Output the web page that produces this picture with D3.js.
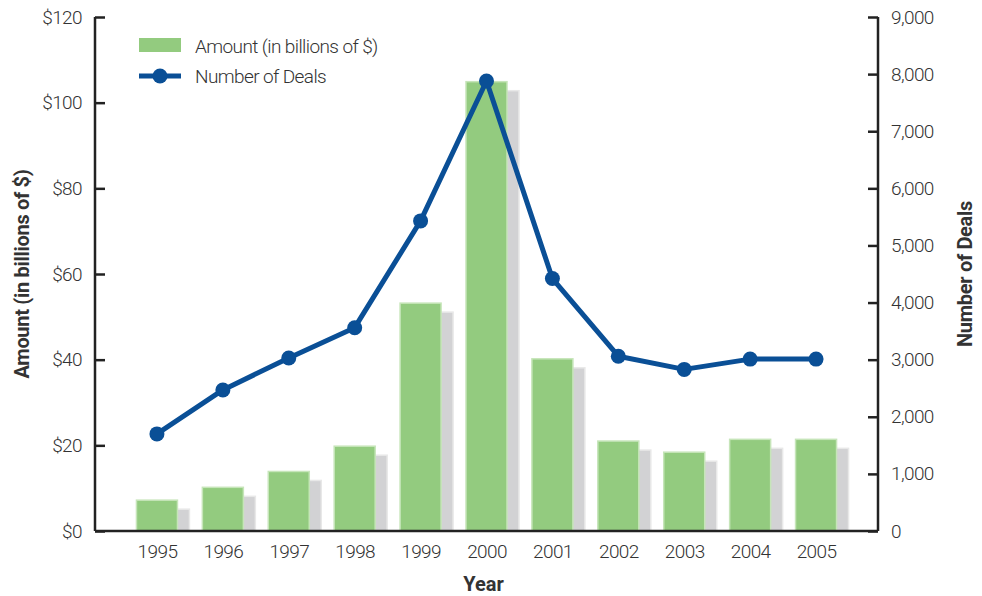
<!DOCTYPE html>
<html>
<head>
<meta charset="utf-8">
<script src="https://cdn.jsdelivr.net/npm/d3@7"></script>
<style>
  body { margin: 0; background: #fff; }
  text { font-family: "Roboto", "Liberation Sans", sans-serif; fill: #333; }
</style>
</head>
<body>
<svg id="chart" width="982" height="596"></svg>
<script>
// ---- data ----
var years   = ["1995","1996","1997","1998","1999","2000","2001","2002","2003","2004","2005"];
var amounts = [7.2, 10.2, 13.9, 19.8, 53.2, 104.9, 40.2, 21.0, 18.4, 21.4, 21.4];
var deals   = [1700, 2470, 3030, 3560, 5430, 7880, 4420, 3060, 2830, 3010, 3010];
var amountTicks = [0, 20, 40, 60, 80, 100, 120];
var dealTicks   = [0, 1000, 2000, 3000, 4000, 5000, 6000, 7000, 8000, 9000];

var svg = d3.select("#chart");
var mLeft = 95, mRight = 878, mTop = 17, mBottom = 531;

var x = d3.scalePoint().domain(years).range([mLeft, mRight]).padding(0.94);
var yL = d3.scaleLinear().domain([0, 120]).range([mBottom, mTop]);
var yR = d3.scaleLinear().domain([0, 9000]).range([mBottom, mTop]);

var barW = 41, shadowDx = 12, shadowDy = 9;

// shadows behind the bars
svg.append("g").selectAll("rect")
  .data(years)
  .enter().append("rect")
  .attr("x", function(d, i){ return x(d) - barW/2 + shadowDx; })
  .attr("y", function(d, i){ return yL(amounts[i]) + shadowDy; })
  .attr("width", barW)
  .attr("height", function(d, i){ return mBottom - yL(amounts[i]) - shadowDy; })
  .attr("style", "fill:#d2d2d4;stroke:#e8e8e8;stroke-width:1.5");

// green bars
svg.append("g").selectAll("rect")
  .data(years)
  .enter().append("rect")
  .attr("x", function(d){ return x(d) - barW/2; })
  .attr("y", function(d, i){ return yL(amounts[i]); })
  .attr("width", barW)
  .attr("height", function(d, i){ return mBottom - yL(amounts[i]); })
  .attr("style", "fill:#93cb7f;stroke:#c6e5b9;stroke-width:1.5");

// axes
var axL = svg.append("g").attr("transform", "translate(" + mLeft + ",0)")
  .call(d3.axisRight(yL).tickValues(amountTicks).tickSize(10).tickFormat(function(d){ return "$" + d; }));
axL.selectAll("text").attr("x", -13).style("text-anchor", "end");

var axR = svg.append("g").attr("transform", "translate(" + mRight + ",0)")
  .call(d3.axisLeft(yR).tickValues(dealTicks).tickSize(10).tickFormat(d3.format(",")));
axR.selectAll("text").attr("x", 13).style("text-anchor", "start");

var axB = svg.append("g").attr("transform", "translate(0," + mBottom + ")")
  .call(d3.axisBottom(x).tickSize(0));
axB.selectAll("text").attr("y", 14);

svg.selectAll(".domain").attr("stroke", "#222").attr("stroke-width", 2.5);
svg.selectAll(".tick line").attr("stroke", "#222").attr("stroke-width", 2.5);
svg.selectAll(".tick text").style("font-size", "19px").style("fill", "#333")
  .style("letter-spacing", "-0.6px").style("font-weight", "300")
  .style("font-family", "Roboto, 'Liberation Sans', sans-serif");
axL.select(".domain").attr("d", "M0," + mTop + "V" + mBottom);
axR.select(".domain").attr("d", "M0," + mTop + "V" + mBottom);
axB.select(".domain").attr("d", "M" + mLeft + ",0H" + mRight);

// line
var line = d3.line()
  .x(function(d, i){ return x(years[i]); })
  .y(function(d){ return yR(d); });

svg.append("path")
  .datum(deals)
  .attr("d", line)
  .attr("style", "fill:none;stroke:#0a4f96;stroke-width:5;stroke-linejoin:round");

svg.append("g").selectAll("circle")
  .data(deals)
  .enter().append("circle")
  .attr("cx", function(d, i){ return x(years[i]); })
  .attr("cy", function(d){ return yR(d); })
  .attr("r", 7.5)
  .attr("fill", "#0a4f96");

// axis titles
svg.append("text")
  .attr("transform", "translate(29," + (mTop + mBottom)/2 + ") rotate(-90)")
  .attr("text-anchor", "middle")
  .style("font-size", "20px").style("font-weight", "bold").style("letter-spacing", "-0.3px")
  .text("Amount (in billions of $)");

svg.append("text")
  .attr("transform", "translate(972," + (mTop + mBottom)/2 + ") rotate(-90)")
  .attr("text-anchor", "middle")
  .style("font-size", "20px").style("font-weight", "bold").style("letter-spacing", "-0.3px")
  .text("Number of Deals");

svg.append("text")
  .attr("x", (mLeft + mRight)/2 - 3).attr("y", 591)
  .attr("text-anchor", "middle")
  .style("font-size", "20px").style("font-weight", "bold")
  .text("Year");

// legend
var lg = svg.append("g").style("font-size", "19px").style("font-weight", "300").style("letter-spacing", "-0.6px");
lg.append("rect").attr("x", 139).attr("y", 38).attr("width", 42).attr("height", 14).attr("fill", "#93cb7f");
lg.append("text").attr("x", 195).attr("y", 53).text("Amount (in billions of $)");
lg.append("line").attr("x1", 139).attr("x2", 181).attr("y1", 76).attr("y2", 76)
  .attr("stroke", "#0a4f96").attr("stroke-width", 5);
lg.append("circle").attr("cx", 160).attr("cy", 76).attr("r", 7.5).attr("fill", "#0a4f96");
lg.append("text").attr("x", 195).attr("y", 83).text("Number of Deals");
</script>
</body>
</html>
